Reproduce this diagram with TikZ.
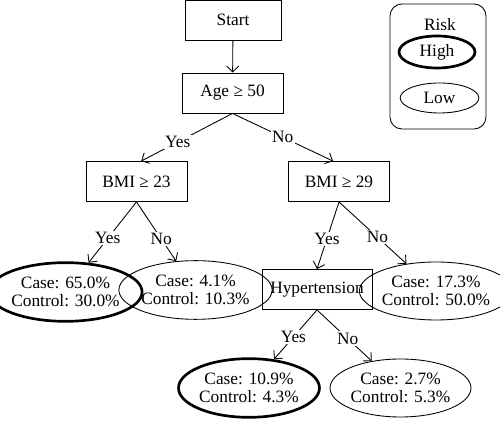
\documentclass[tikz,border=0pt]{standalone}
\usepackage{fontspec}
\setmainfont{Liberation Serif}
\usepackage{tikz}
\usetikzlibrary{shapes.geometric, arrows.meta, positioning}

\begin{document}
\begin{tikzpicture}[x=0.75pt, y=-0.75pt,
    font=\fontsize{13}{13.5}\selectfont, line width=0.65pt,
    testbox/.style={draw, minimum width=75.75pt, minimum height=30pt, inner sep=2pt},
    leaf/.style={draw, ellipse, inner sep=0pt, minimum width=93pt, minimum height=44pt, align=center},
    highleaf/.style={leaf, line width=2pt},
    arr/.style={-{Straight Barb[length=4.5pt, width=9pt]}},
    lbl/.style={fill=white, inner sep=1pt}]
  \useasboundingbox (0, 0) rectangle (500, 423);

  % Root
  \node[testbox, minimum width=72pt] (start) at (233, 20) {Start};
  \node[testbox] (age) at (232.5, 93) {Age ≥ 50};
  \draw[arr] (start) -- (age);

  % First split
  \node[testbox] (bmiA) at (136.5, 181.5) {BMI ≥ 23};
  \node[testbox] (bmiB) at (339, 181.5) {BMI ≥ 29};
  \draw[arr] (age.south) -- node[lbl, pos=0.6] {Yes} ([xshift=3.5pt]bmiA.north);
  \draw[arr] (age.south) -- node[lbl, pos=0.5] {No} ([xshift=-4.5pt]bmiB.north);

  % Leaves under BMI 23
  \node[highleaf, minimum width=95pt] (caseA) at (65.5, 292) {Case: 65.0\%\\Control: 30.0\%};
  \node[leaf] (caseB) at (195.5, 290) {Case: 4.1\%\\Control: 10.3\%};
  \draw[arr] (bmiA.south) -- node[lbl, pos=0.6] {Yes} (caseA);
  \draw[arr] (bmiA.south) -- node[lbl, pos=0.62] {No} (caseB);

  % Under BMI 29
  \node[testbox, minimum width=82.5pt] (hyp) at (317, 289.5) {Hypertension};
  \node[leaf, minimum height=43.5pt] (caseC) at (436, 291) {Case: 17.3\%\\Control: 50.0\%};
  \draw[arr] (bmiB.south) -- node[lbl, pos=0.55] {Yes} (hyp.north);
  \draw[arr] (bmiB.south) -- node[lbl, pos=0.57] {No} (caseC);

  % Leaves under Hypertension
  \node[highleaf, minimum width=95pt] (caseD) at (249, 388) {Case: 10.9\%\\Control: 4.3\%};
  \node[leaf, minimum height=43.5pt] (caseE) at (400.5, 388) {Case: 2.7\%\\Control: 5.3\%};
  \draw[arr] (hyp.south) -- node[lbl, pos=0.55] {Yes} (caseD);
  \draw[arr] (hyp.south) -- node[lbl, pos=0.56] {No} (caseE);

  % Legend
  \node[draw, rounded corners=9pt, minimum width=72pt, minimum height=93.75pt] (legend) at (438, 66.5) {};
  \node (risk) at (440, 25) {Risk};
  \node[draw, ellipse, line width=2pt, inner sep=0pt, minimum width=57pt, minimum height=24pt] (high) at (437, 52) {High};
  \node[draw, ellipse, inner sep=0pt, minimum width=59pt, minimum height=22.5pt] (low) at (439.5, 98) {Low};
\end{tikzpicture}
\end{document}
